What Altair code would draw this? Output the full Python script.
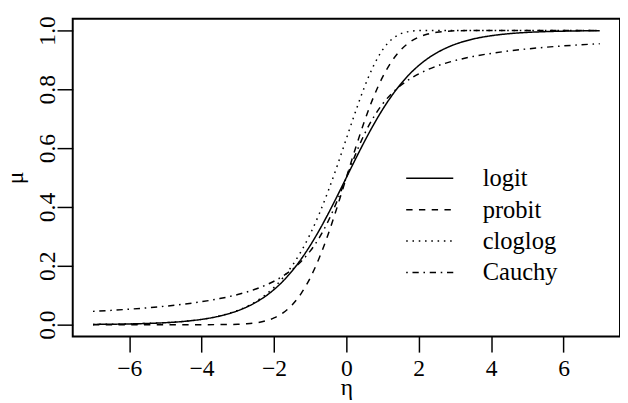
import altair as alt
import pandas as pd

eta = [-7, -6.5, -6, -5.5, -5, -4.5, -4, -3.5, -3, -2.75, -2.5, -2.25, -2, -1.75,
       -1.5, -1.25, -1, -0.75, -0.5, -0.25, 0, 0.25, 0.5, 0.75, 1, 1.25, 1.5, 1.75,
       2, 2.25, 2.5, 2.75, 3, 3.5, 4, 4.5, 5, 5.5, 6, 6.5, 7]

logit = [0.0009, 0.0015, 0.0025, 0.0041, 0.0067, 0.0110, 0.0180, 0.0293, 0.0474,
         0.0601, 0.0759, 0.0953, 0.1192, 0.1480, 0.1824, 0.2227, 0.2689, 0.3208,
         0.3775, 0.4378, 0.5, 0.5622, 0.6225, 0.6792, 0.7311, 0.7773, 0.8176,
         0.8520, 0.8808, 0.9047, 0.9241, 0.9399, 0.9526, 0.9707, 0.9820, 0.9890,
         0.9933, 0.9959, 0.9975, 0.9985, 0.9991]

probit = [0.0, 0.0, 0.0, 0.0, 0.0000003, 0.0000034, 0.0000317, 0.0002, 0.0013,
          0.0030, 0.0062, 0.0122, 0.0228, 0.0401, 0.0668, 0.1057, 0.1587, 0.2266,
          0.3085, 0.4013, 0.5, 0.5987, 0.6915, 0.7734, 0.8413, 0.8943, 0.9332,
          0.9599, 0.9772, 0.9878, 0.9938, 0.9970, 0.9987, 0.9998, 1.0, 1.0, 1.0,
          1.0, 1.0, 1.0, 1.0]

cloglog = [0.0009, 0.0015, 0.0025, 0.0041, 0.0067, 0.0110, 0.0181, 0.0297, 0.0486,
           0.0619, 0.0788, 0.1000, 0.1266, 0.1595, 0.2000, 0.2491, 0.3078, 0.3765,
           0.4548, 0.5410, 0.6321, 0.7231, 0.8077, 0.8796, 0.9340, 0.9695, 0.9887,
           0.9968, 0.9994, 0.9999, 1.0, 1.0, 1.0, 1.0, 1.0, 1.0, 1.0, 1.0, 1.0,
           1.0, 1.0]

cauchy = [0.0452, 0.0486, 0.0526, 0.0572, 0.0628, 0.0696, 0.0780, 0.0886, 0.1024,
          0.1110, 0.1211, 0.1331, 0.1476, 0.1652, 0.1872, 0.2148, 0.25, 0.2952,
          0.3524, 0.4220, 0.5, 0.5780, 0.6476, 0.7048, 0.75, 0.7852, 0.8128,
          0.8348, 0.8524, 0.8669, 0.8789, 0.8890, 0.8976, 0.9114, 0.9220, 0.9304,
          0.9372, 0.9428, 0.9474, 0.9514, 0.9548]

links = ["logit", "probit", "cloglog", "Cauchy"]
series = [logit, probit, cloglog, cauchy]
x_ticks = [-6, -4, -2, 0, 2, 4, 6]
y_ticks = [0.0, 0.2, 0.4, 0.6, 0.8, 1.0]

rows = []
for name, vals in zip(links, series):
    for e, m in zip(eta, vals):
        rows.append({"eta": e, "mu": m, "link": name})
df = pd.DataFrame(rows)

FONT = "Liberation Serif"

chart = alt.Chart(df).mark_line(
    color="black", strokeWidth=1.5, interpolate="monotone", strokeCap="butt"
).encode(
    x=alt.X("eta:Q",
            scale=alt.Scale(domain=[-7.56, 7.56], nice=False, zero=False),
            axis=alt.Axis(values=x_ticks, title="η", titleX=279, titleY=59,
                          titleBaseline="alphabetic", labelBaseline="alphabetic",
                          labelPadding=24, labelFont=FONT, titleFont=FONT,
                          labelFontSize=24, titleFontSize=24)),
    y=alt.Y("mu:Q",
            scale=alt.Scale(domain=[-0.04, 1.04], nice=False, zero=False),
            axis=alt.Axis(values=y_ticks, format=".1f", title="μ",
                          titleX=-51, titleY=162, titleAngle=270,
                          titleBaseline="alphabetic", titleAlign="center",
                          labelAngle=270, labelAlign="center",
                          labelBaseline="alphabetic", labelPadding=3,
                          labelFont=FONT, titleFont=FONT,
                          labelFontSize=24, titleFontSize=24)),
    strokeDash=alt.StrokeDash(
        "link:N",
        scale=alt.Scale(domain=links,
                        range=[[1, 0], [6.5, 6.5], [1.6, 4.8], [1.6, 4.8, 6.4, 4.8]]),
        legend=alt.Legend(orient="none", legendX=339, legendY=147, title=None,
                          symbolType="stroke", symbolSize=2304,
                          symbolStrokeWidth=1.5, symbolStrokeColor="black",
                          labelFont=FONT, labelFontSize=25, labelColor="black",
                          labelOffset=29, rowPadding=0, clipHeight=31.5, padding=0)),
    detail="link:N",
).properties(
    width=558, height=324,
    autosize=alt.AutoSizeParams(type="none"),
    padding={"left": 66, "top": 7, "right": 0, "bottom": 64},
).configure(
    font=FONT
).configure_view(
    stroke="black", strokeWidth=2
).configure_axis(
    domain=False, grid=False, tickColor="black", tickWidth=1.5, tickSize=16,
    labelFont=FONT, labelFontSize=24, labelColor="black",
    titleFont=FONT, titleFontSize=24, titleColor="black", titleFontWeight="normal",
)

chart.save("out.html", embed_options={"renderer": "svg", "actions": False})
